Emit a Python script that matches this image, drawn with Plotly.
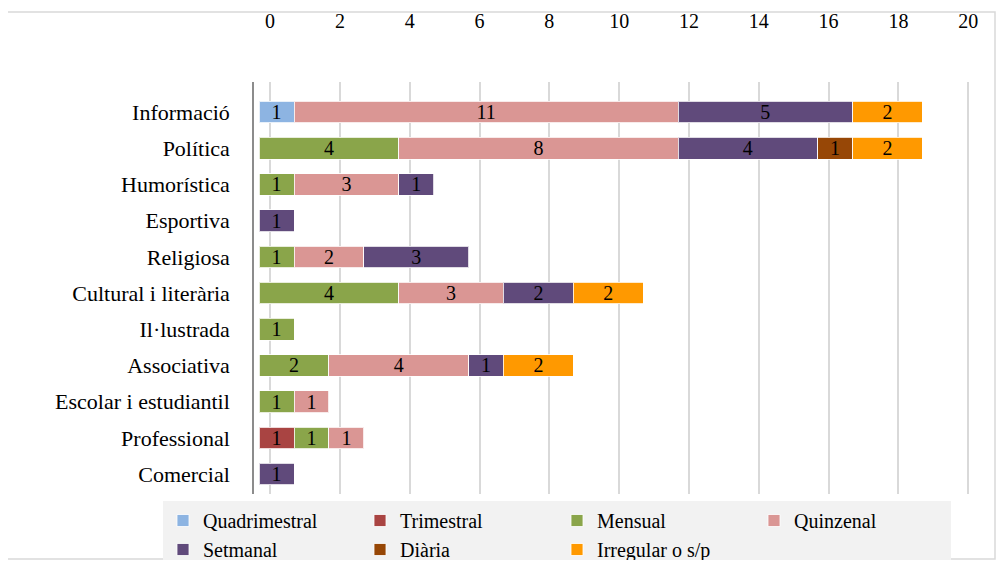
import plotly.graph_objects as go

categories = ["Informació", "Política", "Humorística", "Esportiva", "Religiosa",
              "Cultural i literària", "Il·lustrada", "Associativa",
              "Escolar i estudiantil", "Professional", "Comercial"]

quadrimestral = [1, None, None, None, None, None, None, None, None, None, None]
trimestral    = [None, None, None, None, None, None, None, None, None, 1, None]
mensual       = [None, 4, 1, None, 1, 4, 1, 2, 1, 1, None]
quinzenal     = [11, 8, 3, None, 2, 3, None, 4, 1, 1, None]
setmanal      = [5, 4, 1, 1, 3, 2, None, 1, None, None, 1]
diaria        = [None, 1, None, None, None, None, None, None, None, None, None]
irregular     = [2, 2, None, None, None, 2, None, 2, None, None, None]

series_names = ["Quadrimestral", "Trimestral", "Mensual", "Quinzenal",
                "Setmanal", "Diària", "Irregular o s/p"]
series_values = [quadrimestral, trimestral, mensual, quinzenal, setmanal, diaria, irregular]
colors = ["#8db4e2", "#a94442", "#8aa54a", "#da9694", "#604a7b", "#974706", "#ff9900"]

tick_vals = [0, 2, 4, 6, 8, 10, 12, 14, 16, 18, 20]

# the page has an 8px body margin, so the figure is sized to fit inside it
W, H = 988, 552
OFF = 8
L, R, T, B = 254 - OFF, W - (970 - OFF), 82 - OFF, H - (494 - OFF)
PW, PH = W - L - R, H - T - B
FONT = "Liberation Serif"

fig = go.Figure()
# invisible helper trace so the tick/grid axis is drawn
fig.add_trace(go.Scatter(x=[tick_vals[0], tick_vals[-1]], y=[categories[0], categories[0]],
                         mode="markers", marker=dict(opacity=0), showlegend=False,
                         hoverinfo="skip", xaxis="x", yaxis="y"))
for name, vals, col in zip(series_names, series_values, colors):
    fig.add_trace(go.Bar(
        y=categories, x=vals, name=name, orientation="h",
        xaxis="x2", yaxis="y",
        marker=dict(color=col, line=dict(color="rgba(255,255,255,0.8)", width=1)),
        width=0.6,
        texttemplate="%{x}", textposition="inside", insidetextanchor="middle",
        textangle=0, constraintext="none",
        textfont=dict(family=FONT, size=20, color="black"),
        cliponaxis=False,
    ))

x_lo, x_hi = -0.46, 20.05
shift = 0.314

fig.update_layout(
    width=W, height=H,
    margin=dict(l=L, r=R, t=T, b=B, autoexpand=False),
    barmode="stack",
    paper_bgcolor="white", plot_bgcolor="white",
    font=dict(family=FONT, size=20, color="black"),
    xaxis=dict(range=[x_lo, x_hi], side="top", tickvals=tick_vals,
               showgrid=True, gridcolor="#d9d9d9", gridwidth=1.5,
               zeroline=False, showline=False, ticks="", automargin=False,
               ticklabelstandoff=49,
               tickfont=dict(family=FONT, size=20, color="black")),
    xaxis2=dict(range=[x_lo + shift, x_hi + shift], overlaying="x", side="top",
                showticklabels=False, showgrid=False, zeroline=False, showline=False,
                automargin=False),
    yaxis=dict(categoryorder="array", categoryarray=categories,
               range=[10.55, -0.83], showgrid=False, zeroline=False,
               showline=True, linecolor="#8c8c8c", linewidth=1.5, ticks="",
               ticklabelstandoff=18, automargin=False,
               tickfont=dict(family=FONT, size=22, color="black")),
    legend=dict(orientation="h", xref="paper", yref="paper",
                x=(163 - OFF - L) / PW, y=(H - B - (501 - OFF)) / PH,
                xanchor="left", yanchor="top",
                bgcolor="#f2f2f2", entrywidth=152, entrywidthmode="pixels",
                font=dict(family=FONT, size=20, color="black"),
                traceorder="normal", itemwidth=30, tracegroupgap=0,
                itemclick=False),
    shapes=[dict(type="rect", xref="paper", yref="paper",
                 x0=(7 - OFF - L) / PW, x1=(W - 1 - L) / PW,
                 y0=(H - B - (H - 1)) / PH, y1=(H - B - (12 - OFF)) / PH,
                 line=dict(color="#d9d9d9", width=1.5), layer="below")],
    showlegend=True,
)

fig.write_html("out.html")
